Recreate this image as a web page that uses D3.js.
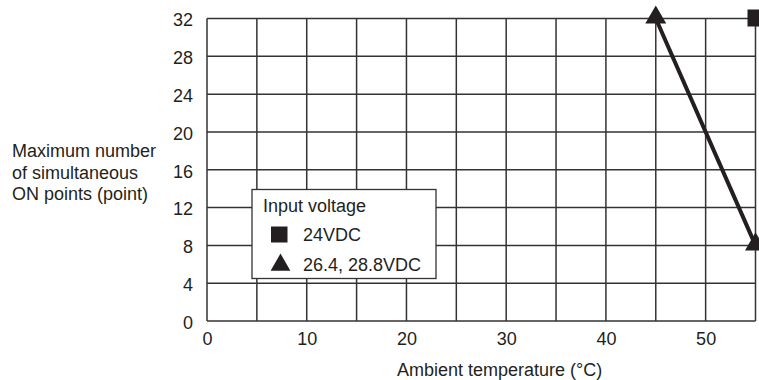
<!DOCTYPE html>
<html>
<head>
<meta charset="utf-8">
<script src="https://cdn.jsdelivr.net/npm/d3@7"></script>
<style>
  body { margin: 0; background: #fff; }
  svg { display: block; font-family: "Liberation Sans", Arial, sans-serif; }
</style>
</head>
<body>
<div id="chart"></div>
<script>
// data
const xTicks = [0, 10, 20, 30, 40, 50];
const yTicks = [0, 4, 8, 12, 16, 20, 24, 28, 32];
const squareSeries = [{ t: 55, n: 32 }];          // 24VDC
const triangleSeries = [{ t: 45, n: 32 }, { t: 55, n: 8 }]; // 26.4, 28.8VDC
const legendTitle = 'Input voltage';
const legendItems = ['24VDC', '26.4, 28.8VDC'];
const yTitle = ['Maximum number', 'of simultaneous', 'ON points (point)'];
const xTitle = 'Ambient temperature (°C)';

const W = 759, H = 380;
const margin = { top: 18.5, right: 3.5, bottom: 59, left: 207 };
const ink = '#231f20';
const fs = 18;

const svg = d3.select('#chart').append('svg').attr('width', W).attr('height', H);

const x = d3.scaleLinear().domain([0, 55]).range([margin.left, W - margin.right]);
const y = d3.scaleLinear().domain([0, 32]).range([H - margin.bottom, margin.top]);

// grid
const grid = svg.append('g').attr('stroke', '#333').attr('stroke-width', 1.5);
grid.selectAll('line.v').data(d3.range(0, 56, 5)).join('line')
  .attr('x1', d => x(d)).attr('x2', d => x(d))
  .attr('y1', y(0)).attr('y2', y(32));
grid.selectAll('line.h').data(yTicks).join('line')
  .attr('x1', x(0)).attr('x2', x(55))
  .attr('y1', d => y(d)).attr('y2', d => y(d));

// axes labels (no tick marks)
const xAxis = svg.append('g').attr('transform', `translate(0, ${y(0)})`)
  .call(d3.axisBottom(x).tickValues(xTicks).tickSize(0).tickPadding(11));
const yAxis = svg.append('g').attr('transform', `translate(${x(0)}, 1.5)`)
  .call(d3.axisLeft(y).tickValues(yTicks).tickSize(0).tickPadding(14));
[xAxis, yAxis].forEach(a => {
  a.select('.domain').remove();
  a.selectAll('text').attr('font-size', fs).attr('fill', ink)
    .attr('font-family', '"Liberation Sans", Arial, sans-serif');
});

svg.append('text').attr('x', 397).attr('y', 376)
  .attr('font-size', fs).attr('fill', ink).text(xTitle);

svg.append('g').selectAll('text').data(yTitle).join('text')
  .attr('x', 12).attr('y', (d, i) => 157 + i * 21.5)
  .attr('font-size', fs).attr('fill', ink).text(d => d);

// legend
const lg = svg.append('g');
lg.append('rect').attr('x', 252).attr('y', 189.5).attr('width', 184).attr('height', 89)
  .attr('fill', '#fff').attr('stroke', '#333').attr('stroke-width', 1.3);
lg.append('text').attr('x', 263).attr('y', 212).attr('font-size', fs).attr('fill', ink).text(legendTitle);
lg.append('rect').attr('x', 271).attr('y', 226.5).attr('width', 16.5).attr('height', 16).attr('fill', ink);
lg.append('path').attr('d', d3.symbol(d3.symbolTriangle, 170)())
  .attr('transform', 'translate(280.5, 265)').attr('fill', ink);
lg.selectAll('text.item').data(legendItems).join('text').attr('class', 'item')
  .attr('x', 303).attr('y', (d, i) => 240.5 + i * 30.5)
  .attr('font-size', fs).attr('fill', ink).text(d => d);

// series
svg.append('path').datum(triangleSeries)
  .attr('d', d3.line().x(d => x(d.t)).y(d => y(d.n)))
  .attr('fill', 'none').attr('stroke', ink).attr('stroke-width', 4);
svg.selectAll('path.tri').data(triangleSeries).join('path').attr('class', 'tri')
  .attr('d', d3.symbol(d3.symbolTriangle, 190)())
  .attr('transform', d => `translate(${x(d.t)}, ${y(d.n) - 1})`).attr('fill', ink);
svg.selectAll('rect.sq').data(squareSeries).join('rect').attr('class', 'sq')
  .attr('x', d => x(d.t) - 8).attr('y', d => y(d.n) - 9)
  .attr('width', 17).attr('height', 17).attr('fill', ink);
</script>
</body>
</html>
